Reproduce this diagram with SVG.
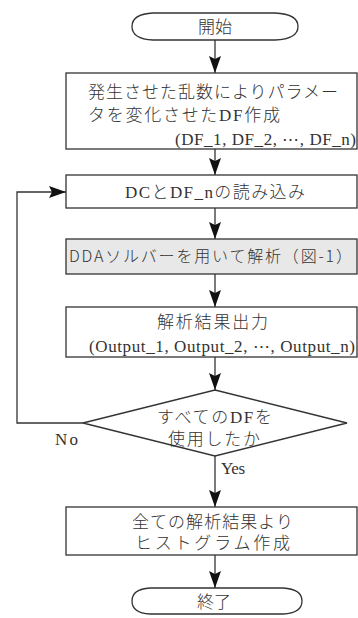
<svg xmlns="http://www.w3.org/2000/svg" width="358" height="618" viewBox="0 0 358 618">
<style>
.s{fill:#fff;stroke:#333;stroke-width:1.3}
.g{fill:#e8e8e8;stroke:#333;stroke-width:1.3}
.l{fill:none;stroke:#333;stroke-width:1.3}
text{font-family:"Liberation Serif","Noto Sans CJK JP",serif;font-size:17px;font-weight:300;fill:#333}
.gt{font-family:"Noto Sans CJK JP","Liberation Sans",sans-serif;font-weight:300;font-size:16px}
.d{font-family:"DejaVu Sans",sans-serif}
</style>
<defs>
<marker id="a" viewBox="0 0 17 12" refX="17" refY="6" markerWidth="17" markerHeight="12" markerUnits="userSpaceOnUse" orient="auto"><path d="M0,0L17,6L0,12L3,6z" fill="#111"/></marker>
</defs>
<g id="connectors">
<path class="l" d="M215,40V73" marker-end="url(#a)"/>
<path class="l" d="M215,149V175" marker-end="url(#a)"/>
<path class="l" d="M215,208V239" marker-end="url(#a)"/>
<path class="l" d="M215,274V307" marker-end="url(#a)"/>
<path class="l" d="M215,357V390" marker-end="url(#a)"/>
<path class="l" d="M215,456V507" marker-end="url(#a)"/>
<path class="l" d="M215,555V588" marker-end="url(#a)"/>
<path class="l" d="M83,423H17V192H66" marker-end="url(#a)"/>
<text x="55" y="445" textLength="23">No</text>
<text x="221" y="474" textLength="24">Yes</text>
</g>
<g id="start">
<path class="s" d="M153,13H275Q298,14 298,26.5Q298,39 275,40H153Q132,39 132,26.5Q132,14 153,13z"/>
<text x="215" y="33" text-anchor="middle">開始</text>
</g>
<g id="create">
<rect class="s" x="66" y="73" width="291" height="76"/>
<text x="88" y="98" textLength="250">発生させた乱数によりパラメー</text>
<text x="88" y="121" textLength="192">タを変化させたDF作成</text>
<text x="175" y="145" textLength="181">(DF_1, DF_2, <tspan class="d">⋯</tspan>, DF_n)</text>
</g>
<g id="read">
<rect class="s" x="66" y="175" width="291" height="33"/>
<text x="125" y="198" textLength="180">DCとDF_nの読み込み</text>
</g>
<g id="solver">
<rect class="g" x="66" y="239" width="291" height="35"/>
<text class="gt" x="69" y="262" textLength="283">DDAソルバーを用いて解析（図-1）</text>
</g>
<g id="output">
<rect class="s" x="66" y="307" width="291" height="50"/>
<text x="157" y="328" textLength="111">解析結果出力</text>
<text x="89" y="352" textLength="266">(Output_1, Output_2, <tspan class="d">⋯</tspan>, Output_n)</text>
</g>
<g id="decision">
<path class="s" d="M215,390L347,423L215,456L83,423z"/>
<text x="157" y="423" textLength="115">すべてのDFを</text>
<text x="168" y="445" textLength="92">使用したか</text>
</g>
<g id="histogram">
<rect class="s" x="66" y="507" width="291" height="48"/>
<text x="132" y="528" textLength="161">全ての解析結果より</text>
<text x="135" y="549" textLength="155">ヒストグラム作成</text>
</g>
<g id="end">
<path class="s" d="M150,588H283Q302,589 302,601Q302,613 283,614H150Q132,613 132,601Q132,589 150,588z"/>
<text x="214" y="608" text-anchor="middle">終了</text>
</g>
</svg>
